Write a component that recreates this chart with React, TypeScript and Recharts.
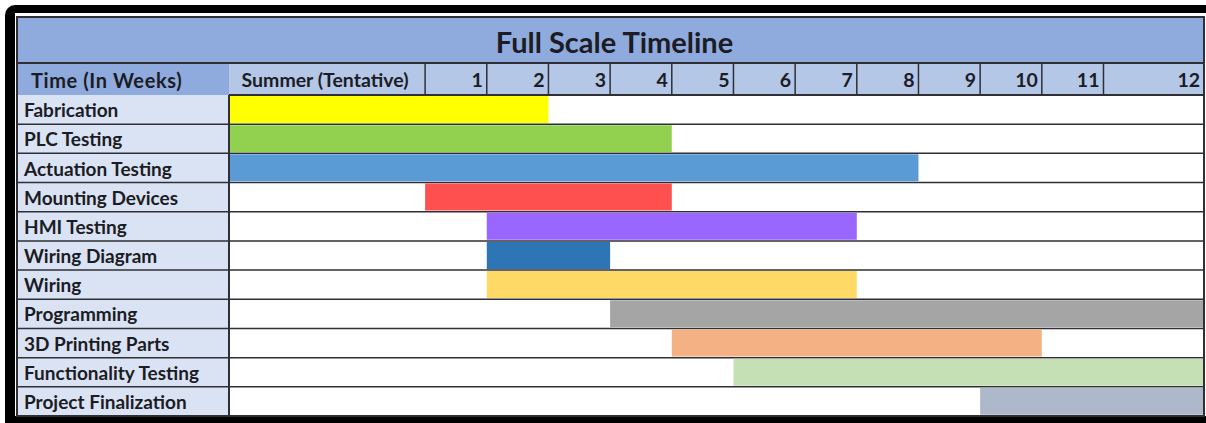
import { Bar, BarChart, CartesianGrid, Cell, XAxis, YAxis } from "recharts";

const columns = ["Summer (Tentative)", "1", "2", "3", "4", "5", "6", "7", "8", "9", "10", "11", "12"];
// relative column widths (one week = 1)
const columnWidths = [3.18, 1, 1, 1, 1, 1, 1, 1, 1, 1, 1, 1, 1.63];

const tasks = [
  "Fabrication",
  "PLC Testing",
  "Actuation Testing",
  "Mounting Devices",
  "HMI Testing",
  "Wiring Diagram",
  "Wiring",
  "Programming",
  "3D Printing Parts",
  "Functionality Testing",
  "Project Finalization",
];
const startColumn = ["Summer (Tentative)", "Summer (Tentative)", "Summer (Tentative)", "1", "2", "2", "2", "4", "5", "6", "10"];
const endColumn = ["2", "4", "8", "4", "7", "3", "7", "12", "10", "12", "12"];
const taskColors = [
  "#ffff00",
  "#92d050",
  "#5b9bd5",
  "#ff5050",
  "#9966ff",
  "#2e75b6",
  "#ffd966",
  "#a5a5a5",
  "#f4b183",
  "#c5e0b4",
  "#adb9ca",
];

const edges = columnWidths.reduce<number[]>((acc, w) => [...acc, acc[acc.length - 1] + w], [0]);
const total = edges[edges.length - 1];

const data = tasks.map((task, i) => {
  const s = columns.indexOf(startColumn[i]);
  const e = columns.indexOf(endColumn[i]) + 1;
  return { task, offset: edges[s], span: edges[e] - edges[s] };
});

const CHART_W = 1187;
const CHART_H = 352;
const LABEL_W = 212;
const HEAD_H = 31;
const PLOT_W = CHART_W - LABEL_W;
const LINE = "#2f2f35";
const TEXT = "#1c1c24";
const FONT = "Lato, 'Open Sans', sans-serif";

function ColumnTick(props: any) {
  const { x, y, index } = props;
  const colW = (columnWidths[index] / total) * PLOT_W;
  const summer = index === 0;
  return (
    <g>
      <line x1={x} x2={x} y1={y - HEAD_H} y2={y} stroke={LINE} strokeWidth={1.5} />
      <text
        x={summer ? x - colW / 2 - 2 : x - 4}
        y={y - 8}
        textAnchor={summer ? "middle" : "end"}
        fontFamily={FONT}
        fontWeight={700}
        fontSize={19.5}
        fill={TEXT}
      >
        {columns[index]}
      </text>
    </g>
  );
}

function TaskTick(props: any) {
  const { y, payload } = props;
  return (
    <text x={7} y={y} dy="0.4em" textAnchor="start" fontFamily={FONT} fontWeight={700} fontSize={19} fill={TEXT}>
      {payload.value}
    </text>
  );
}

export default function App() {
  return (
    <div style={{ position: "fixed", left: 0, top: 0, width: 1206, height: 423, overflow: "hidden", background: "#fff" }}>
      {/* black photo frame */}
      <div
        style={{
          position: "absolute",
          left: 5,
          top: 5,
          width: 1220,
          height: 418,
          boxSizing: "border-box",
          borderTop: "8px solid #000",
          borderLeft: "10px solid #000",
          borderBottom: "7px solid #000",
          borderTopLeftRadius: 10,
        }}
      />
      {/* title row */}
      <div
        style={{
          position: "absolute",
          left: 17,
          top: 17,
          width: 1187,
          height: 47,
          boxSizing: "border-box",
          background: "#8faadc",
          borderBottom: `2px solid ${LINE}`,
          display: "flex",
          alignItems: "center",
          justifyContent: "center",
          paddingTop: 3,
          paddingLeft: 8,
          fontFamily: FONT,
          fontWeight: 700,
          fontSize: 29,
          color: TEXT,
        }}
      >
        Full Scale Timeline
      </div>
      {/* header row */}
      <div style={{ position: "absolute", left: 229, top: 64, width: 975, height: 31, background: "#b4c7e7" }} />
      <div
        style={{
          position: "absolute",
          left: 17,
          top: 64,
          width: 212,
          height: 31,
          boxSizing: "border-box",
          paddingLeft: 14,
          paddingTop: 1,
          background: "#8faadc",
          display: "flex",
          alignItems: "center",
          fontFamily: FONT,
          fontWeight: 700,
          fontSize: 20,
          letterSpacing: 0.6,
          color: TEXT,
        }}
      >
        Time (In Weeks)
      </div>
      {/* label column */}
      <div style={{ position: "absolute", left: 17, top: 95, width: 212, height: 321, background: "#dae3f3" }} />
      <div style={{ position: "absolute", left: 17, top: 64 }}>
        <BarChart
          width={CHART_W}
          height={CHART_H}
          data={data}
          layout="vertical"
          margin={{ top: 0, right: 0, bottom: 0, left: 0 }}
          barCategoryGap={1}
        >
          <CartesianGrid
            vertical={false}
            stroke={LINE}
            strokeWidth={1.5}
            x={0}
            width={CHART_W}
            horizontalCoordinatesGenerator={(args: any) => {
              const top = args?.offset?.top ?? HEAD_H;
              const h = args?.offset?.height ?? CHART_H - HEAD_H;
              return tasks.map((_, i) => top + ((i + 1) * h) / tasks.length);
            }}
          />
          <XAxis
            type="number"
            orientation="top"
            domain={[0, total]}
            ticks={edges.slice(1)}
            interval={0}
            height={HEAD_H}
            tickSize={0}
            tickMargin={0}
            tickLine={false}
            axisLine={{ stroke: LINE, strokeWidth: 2 }}
            tick={<ColumnTick />}
          />
          <YAxis
            type="category"
            dataKey="task"
            width={LABEL_W}
            tickLine={false}
            tickSize={0}
            axisLine={{ stroke: LINE, strokeWidth: 2 }}
            tick={<TaskTick />}
            interval={0}
          />
          <Bar dataKey="offset" stackId="t" fill="transparent" isAnimationActive={false} />
          <Bar dataKey="span" stackId="t" isAnimationActive={false}>
            {data.map((d, i) => (
              <Cell key={d.task} fill={taskColors[i]} />
            ))}
          </Bar>
        </BarChart>
      </div>
      {/* table outline */}
      <div
        style={{
          position: "absolute",
          left: 16,
          top: 16,
          width: 1189,
          height: 401,
          boxSizing: "border-box",
          border: `2px solid ${LINE}`,
          pointerEvents: "none",
        }}
      />
    </div>
  );
}
